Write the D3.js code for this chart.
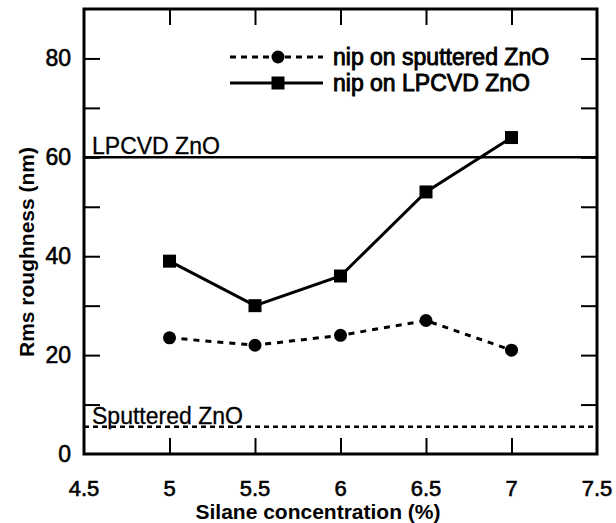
<!DOCTYPE html>
<html lang="en">
<head>
  <meta charset="UTF-8">
  <script src="https://d3js.org/d3.v7.min.js"></script>
  <title>Rms roughness vs silane concentration</title>
  <style>
    body { margin: 0; background: #fff; }
    svg { display: block; font-family: "Liberation Sans", Arial, sans-serif; }
  </style>
</head>
<body>
  <svg width="616" height="523"></svg>
  <script>
    const silane = [5, 5.5, 6, 6.5, 7];
    const sputtered = [23.5, 22, 24, 27, 21];
    const lpcvd = [39, 30, 36, 53, 64];
    const refLevels = [
      { name: "LPCVD ZnO", value: 60, dash: null },
      { name: "Sputtered ZnO", value: 5.5, dash: "5,4" }
    ];
    const xTicks = [4.5, 5, 5.5, 6, 6.5, 7, 7.5];
    const yTicks = [0, 10, 20, 30, 40, 50, 60, 70, 80];
    const yLabels = [0, 20, 40, 60, 80];

    const svg = d3.select("svg");
    const mLeft = 84, mRight = 597, mTop = 9, mBottom = 454;

    const xScale = d3.scaleLinear().domain([4.5, 7.5]).range([mLeft, mRight]);
    const yScale = d3.scaleLinear().domain([0, 90]).range([mBottom, mTop]);

    // ticks pointing inward on all four sides
    const tickLen = 16;
    const inner = xTicks.slice(1, -1);
    svg.append("g").attr("transform", `translate(0,${mBottom})`)
      .call(d3.axisTop(xScale).tickValues(inner).tickSize(tickLen).tickFormat(""))
      .call(g => g.select(".domain").remove());
    svg.append("g").attr("transform", `translate(0,${mTop})`)
      .call(d3.axisBottom(xScale).tickValues(inner).tickSize(tickLen).tickFormat(""))
      .call(g => g.select(".domain").remove());
    svg.append("g").attr("transform", `translate(${mLeft},0)`)
      .call(d3.axisRight(yScale).tickValues(yTicks.slice(1)).tickSize(tickLen).tickFormat(""))
      .call(g => g.select(".domain").remove());
    svg.append("g").attr("transform", `translate(${mRight},0)`)
      .call(d3.axisLeft(yScale).tickValues(yTicks.slice(1)).tickSize(tickLen).tickFormat(""))
      .call(g => g.select(".domain").remove());
    svg.selectAll(".tick line").attr("stroke", "#000").attr("stroke-width", 2);

    // tick labels
    svg.append("g").selectAll("text")
      .data(xTicks).enter().append("text")
      .attr("x", d => xScale(d))
      .attr("y", mBottom + 42)
      .attr("text-anchor", "middle")
      .style("font-size", "22px")
      .style("stroke", "#000").style("stroke-width", "0.6px")
      .text(d => d);
    svg.append("g").selectAll("text")
      .data(yLabels).enter().append("text")
      .attr("x", mLeft - 13)
      .attr("y", d => yScale(d) + 8)
      .attr("text-anchor", "end")
      .style("font-size", "23px")
      .style("stroke", "#000").style("stroke-width", "0.6px")
      .text(d => d);

    // reference levels
    refLevels.forEach(r => {
      svg.append("line")
        .attr("x1", mLeft).attr("x2", mRight)
        .attr("y1", yScale(r.value)).attr("y2", yScale(r.value))
        .attr("stroke", "#000").attr("stroke-width", 2.5)
        .attr("stroke-dasharray", r.dash);
      svg.append("text")
        .attr("x", mLeft + 8)
        .attr("y", yScale(r.value) - 3)
        .style("font-size", "23px")
        .style("stroke", "#000").style("stroke-width", "0.3px")
        .text(r.name);
    });

    // series
    const line = d3.line().x((d, i) => xScale(silane[i])).y(d => yScale(d));
    svg.append("path").datum(sputtered)
      .attr("d", line).attr("fill", "none")
      .attr("stroke", "#000").attr("stroke-width", 3)
      .attr("stroke-dasharray", "6,6");
    svg.append("path").datum(lpcvd)
      .attr("d", line).attr("fill", "none")
      .attr("stroke", "#000").attr("stroke-width", 3);

    svg.selectAll("circle.pt").data(sputtered).enter().append("circle")
      .attr("class", "pt")
      .attr("cx", (d, i) => xScale(silane[i])).attr("cy", d => yScale(d))
      .attr("r", 6.5).attr("fill", "#000");
    svg.selectAll("rect.pt").data(lpcvd).enter().append("rect")
      .attr("class", "pt")
      .attr("x", (d, i) => xScale(silane[i]) - 6.5).attr("y", d => yScale(d) - 6.5)
      .attr("width", 13).attr("height", 13).attr("fill", "#000");

    // frame
    svg.append("rect")
      .attr("x", mLeft).attr("y", mTop)
      .attr("width", mRight - mLeft).attr("height", mBottom - mTop)
      .attr("fill", "none").attr("stroke", "#000").attr("stroke-width", 3);

    // legend
    const legend = [
      { label: "nip on sputtered ZnO", dash: "6,5", shape: "circle" },
      { label: "nip on LPCVD ZnO", dash: null, shape: "square" }
    ];
    legend.forEach((l, i) => {
      const y = 57 + i * 26;
      svg.append("line")
        .attr("x1", 230).attr("x2", 323).attr("y1", y).attr("y2", y)
        .attr("stroke", "#000").attr("stroke-width", 3)
        .attr("stroke-dasharray", l.dash);
      if (l.shape === "circle") {
        svg.append("circle").attr("cx", 278).attr("cy", y).attr("r", 6.5).attr("fill", "#000");
      } else {
        svg.append("rect").attr("x", 271.5).attr("y", y - 6.5)
          .attr("width", 13).attr("height", 13).attr("fill", "#000");
      }
      svg.append("text")
        .attr("x", 333).attr("y", y + 8)
        .style("font-size", "23px")
        .style("stroke", "#000").style("stroke-width", "0.9px")
        .text(l.label);
    });

    // axis titles
    svg.append("text")
      .attr("x", 318).attr("y", 519)
      .attr("text-anchor", "middle")
      .style("font-size", "21px").style("font-weight", "bold")
      .text("Silane concentration (%)");
    svg.append("text")
      .attr("transform", `translate(34,252) rotate(-90)`)
      .attr("text-anchor", "middle")
      .style("font-size", "21px").style("font-weight", "bold")
      .text("Rms roughness (nm)");
  </script>
</body>
</html>
